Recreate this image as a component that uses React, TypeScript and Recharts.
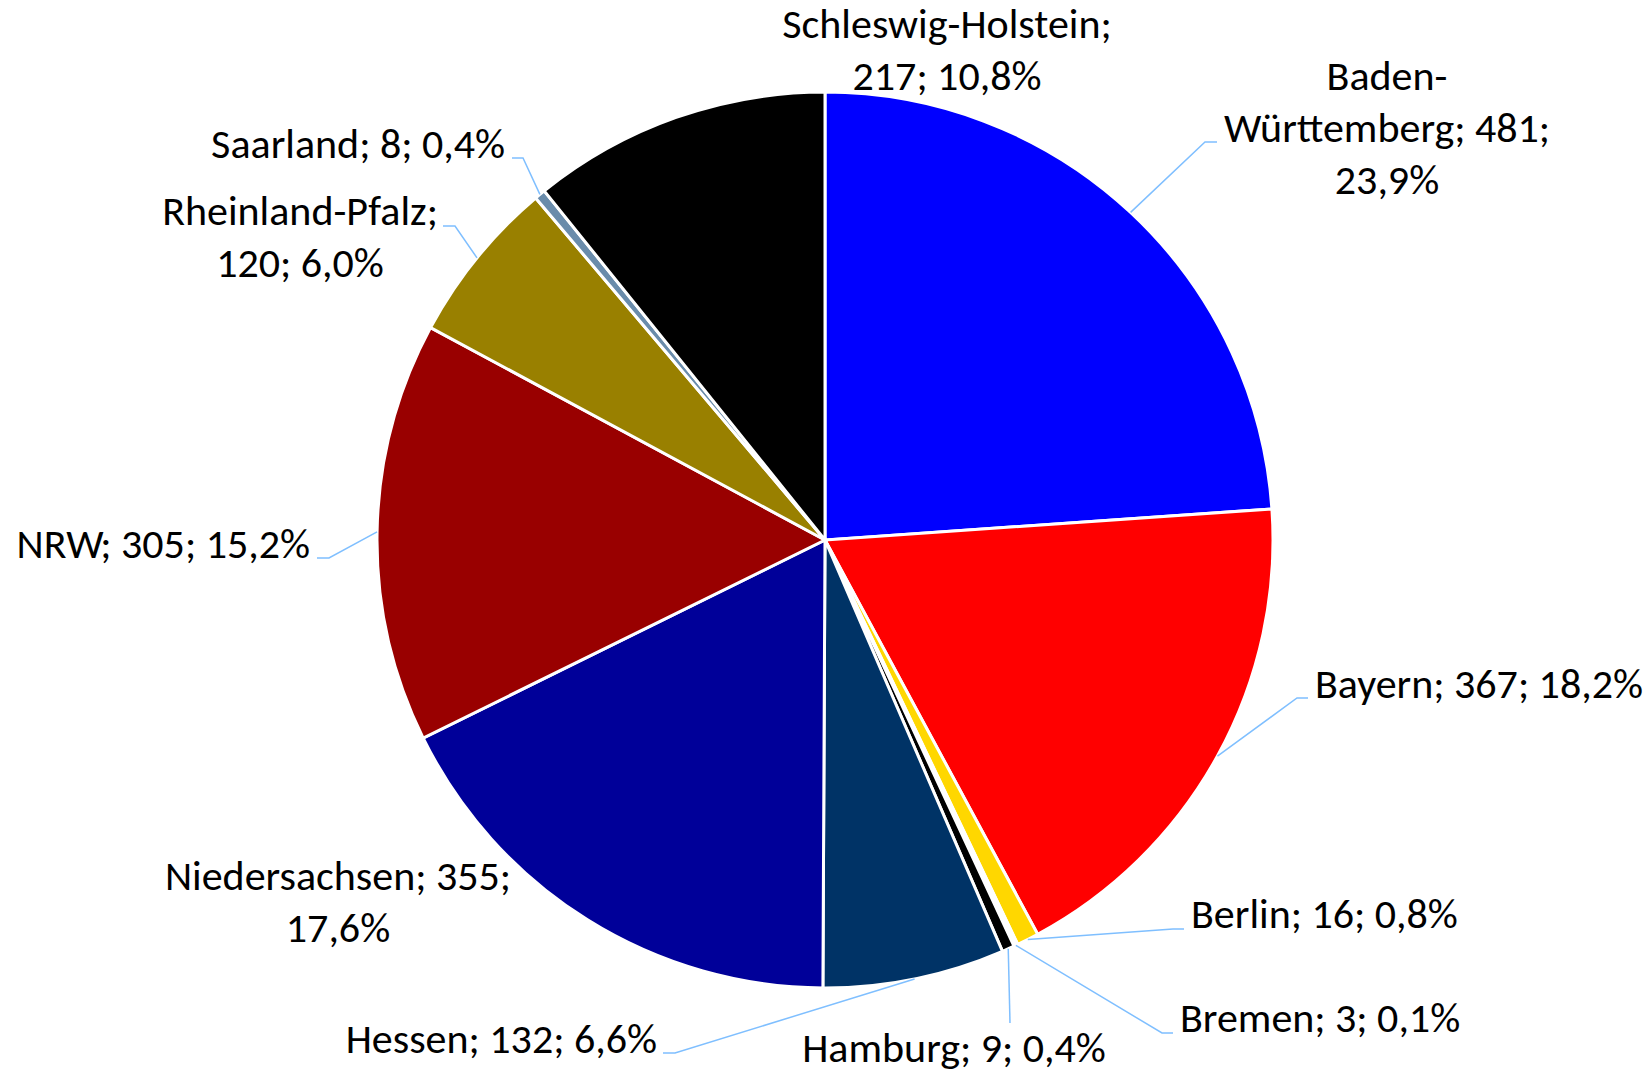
import { Cell, Pie, PieChart } from 'recharts';

const states = [
    'Baden-Württemberg', 'Bayern', 'Berlin', 'Bremen', 'Hamburg', 'Hessen',
    'Niedersachsen', 'NRW', 'Rheinland-Pfalz', 'Saarland', 'Schleswig-Holstein',
];
const counts = [481, 367, 16, 3, 9, 132, 355, 305, 120, 8, 217];
const colors = [
    '#0000FF', '#FF0000', '#FFD700', '#FFFFFF', '#000000', '#003366',
    '#000099', '#990000', '#998000', '#6A8CAB', '#000000',
];

const total = counts.reduce((a, b) => a + b, 0);
const data = states.map((name, i) => ({ name, value: counts[i] }));

// label placement, offsets from the pie centre (Excel labels were moved by hand)
// split: how the text "name; value; pct" is wrapped
const labelLayout: Record<string, any> = {
    'Baden-Württemberg': { x: 562, y: -450, anchor: 'middle', split: 'bw', elbow: [380, -398], end: [392, -398] },
    'Bayern': { x: 490, y: 158, anchor: 'start', split: 'one', elbow: [472, 158], end: [483, 158] },
    'Berlin': { x: 366, y: 388, anchor: 'start', split: 'one', elbow: [348, 389], end: [359, 389] },
    'Bremen': { x: 355, y: 492, anchor: 'start', split: 'one', elbow: [337, 493], end: [348, 493] },
    'Hamburg': { x: 129, y: 522, anchor: 'middle', split: 'one', elbow: [185, 483], end: [185, 483] },
    'Hessen': { x: -168, y: 513, anchor: 'end', split: 'one', elbow: [-150, 513], end: [-162, 513] },
    'Niedersachsen': { x: -487, y: 350, anchor: 'middle', split: 'pct' },
    'NRW': { x: -515, y: 18, anchor: 'end', split: 'one', elbow: [-496, 18], end: [-508, 18] },
    'Rheinland-Pfalz': { x: -525, y: -315, anchor: 'middle', split: 'name', elbow: [-370, -314], end: [-382, -314] },
    'Saarland': { x: -320, y: -382, anchor: 'end', split: 'one', elbow: [-302, -382], end: [-313, -382] },
    'Schleswig-Holstein': { x: 122, y: -502, anchor: 'middle', split: 'name' },
};

const RADIAN = Math.PI / 180;
const LINE_H = 52;

const fmtPct = (v: number) => ((v / total) * 100).toFixed(1).replace('.', ',') + '%';

const labelLines = (name: string, value: number, split: string) => {
    const pct = fmtPct(value);
    if (split === 'one') return [`${name}; ${value}; ${pct}`];
    if (split === 'pct') return [`${name}; ${value};`, pct];
    if (split === 'name') return [`${name};`, `${value}; ${pct}`];
    const [a, b] = name.split('-');
    return [`${a}-`, `${b}; ${value};`, pct];
};

const renderLabel = (props: any) => {
    const { cx, cy, midAngle, outerRadius, name, value } = props;
    const lay = labelLayout[name];
    if (!lay) return null;
    const sx = cx + outerRadius * Math.cos(-midAngle * RADIAN);
    const sy = cy + outerRadius * Math.sin(-midAngle * RADIAN);
    const lines = labelLines(name, value, lay.split);
    return (
        <g>
            {lay.elbow && (
                <polyline
                    points={`${sx},${sy} ${cx + lay.elbow[0]},${cy + lay.elbow[1]} ${cx + lay.end[0]},${cy + lay.end[1]}`}
                    fill="none"
                    stroke="#7FBFFF"
                    strokeWidth={1.5}
                />
            )}
            <text
                x={cx + lay.x}
                y={cy + lay.y}
                textAnchor={lay.anchor}
                fill="#000000"
                fontSize={42}
                fontFamily="Carlito, Calibri, 'Open Sans', sans-serif"
            >
                {lines.map((l, i) => (
                    <tspan key={i} x={cx + lay.x} dy={i === 0 ? 0 : LINE_H}>{l}</tspan>
                ))}
            </text>
        </g>
    );
};

export default function App() {
    return (
        <div style={{ position: 'absolute', left: 0, top: 0, background: '#ffffff' }}>
            <PieChart width={1651} height={1071} margin={{ top: 0, right: 0, bottom: 0, left: 0 }}>
                <Pie
                    data={data}
                    dataKey="value"
                    nameKey="name"
                    cx={825}
                    cy={540}
                    outerRadius={448}
                    startAngle={90}
                    endAngle={-270}
                    stroke="#FFFFFF"
                    strokeWidth={3}
                    label={renderLabel}
                    labelLine={false}
                    isAnimationActive={false}
                >
                    {data.map((d, i) => (
                        <Cell key={d.name} fill={colors[i]} />
                    ))}
                </Pie>
            </PieChart>
        </div>
    );
}
